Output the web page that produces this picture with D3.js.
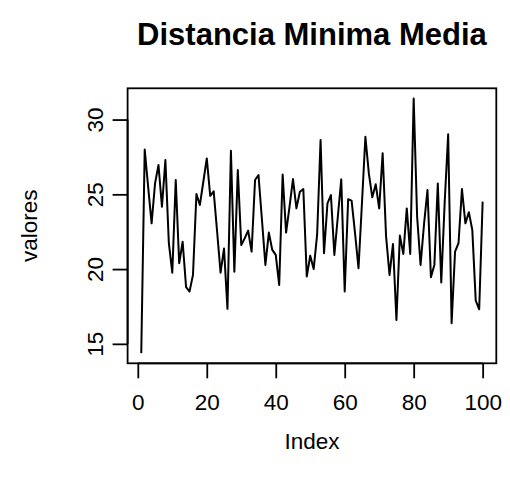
<!DOCTYPE html>
<html>
<head>
<meta charset="utf-8">
<script src="https://cdn.jsdelivr.net/npm/d3@7"></script>
<style>
  html, body { margin: 0; padding: 0; background: #fff; }
  svg { display: block; }
  text { font-family: "Liberation Sans", Arial, Helvetica, sans-serif; fill: #000; }
</style>
</head>
<body>
<svg id="chart" width="510" height="490"></svg>
<script>
const titleText = "Distancia Minima Media";
const xLabel = "Index";
const yLabel = "valores";
const xTicks = [0, 20, 40, 60, 80, 100];
const yTicks = [15, 20, 25, 30];
const valores = [
  14.38, 28.0, 25.5, 23.06, 25.73, 26.96, 24.17, 27.29, 21.73, 19.76,
  25.96, 20.39, 21.83, 18.79, 18.5, 19.61, 25.02, 24.29, 25.84, 27.4,
  24.9, 25.2, 22.5, 19.76, 21.37, 17.34, 27.91, 19.83, 26.62, 21.61,
  22.06, 22.57, 21.17, 25.96, 26.29, 23.3, 20.28, 22.44, 21.28, 20.95,
  18.94, 26.33, 22.44, 24.17, 26.02, 24.06, 25.17, 25.35, 19.5, 20.9,
  20.0, 22.3, 28.63, 21.06, 24.4, 24.95, 20.95, 23.5, 26.0, 18.5,
  24.67, 24.58, 22.39, 20.06, 24.4, 28.85, 26.4, 24.8, 25.67, 24.06,
  27.74, 22.17, 19.61, 21.68, 16.6, 22.24, 21.01, 24.06, 21.01, 31.41,
  23.5, 20.28, 23.0, 25.29, 19.46, 20.28, 25.73, 19.1, 24.5, 29.01,
  16.38, 21.17, 21.73, 25.35, 23.06, 23.8, 22.62, 17.89, 17.31, 24.51
];
const indices = valores.map((_, i) => i + 1);

const box = { left: 127.6, right: 496.3, top: 88.3, bottom: 363.3 };
const svg = d3.select("#chart");

// R-style 4% axis expansion
const xExt = d3.extent(indices);
const xPad = (xExt[1] - xExt[0]) * 0.04;
const yExt = d3.extent(valores);
const yPad = (yExt[1] - yExt[0]) * 0.04;

const x = d3.scaleLinear().domain([xExt[0] - xPad, xExt[1] + xPad]).range([box.left, box.right]);
const y = d3.scaleLinear().domain([yExt[0] - yPad, yExt[1] + yPad]).range([box.bottom, box.top]);

// Line
const line = d3.line().x((d, i) => x(indices[i])).y(d => y(d));
svg.append("path")
  .datum(valores)
  .attr("d", line)
  .attr("fill", "none")
  .attr("stroke", "#000")
  .attr("stroke-width", 2)
  .attr("stroke-linejoin", "round");

// Box
svg.append("rect")
  .attr("x", box.left).attr("y", box.top)
  .attr("width", box.right - box.left).attr("height", box.bottom - box.top)
  .attr("fill", "none").attr("stroke", "#000").attr("stroke-width", 1.8);

// X axis
const xAxis = d3.axisBottom(x).tickValues(xTicks).tickSize(15).tickPadding(16).tickFormat(d3.format("d"));
const gx = svg.append("g").attr("transform", `translate(0,${box.bottom})`).call(xAxis);
gx.select(".domain").attr("d", `M${x(xTicks[0])},0H${x(xTicks[xTicks.length - 1])}`).attr("stroke-width", 1.8);
gx.selectAll(".tick line").attr("stroke-width", 1.8);
gx.selectAll(".tick text").attr("font-size", 22.5).attr("font-family", "Liberation Sans, Arial, sans-serif").attr("dy", "0.71em");

// Y axis
const yAxis = d3.axisLeft(y).tickValues(yTicks).tickSize(15).tickFormat(d3.format("d"));
const gy = svg.append("g").attr("transform", `translate(${box.left},0)`).call(yAxis);
gy.select(".domain").attr("d", `M0,${y(yTicks[0])}V${y(yTicks[yTicks.length - 1])}`).attr("stroke-width", 1.8);
gy.selectAll(".tick line").attr("stroke-width", 1.8);
gy.selectAll(".tick text")
  .attr("font-size", 22.5).attr("font-family", "Liberation Sans, Arial, sans-serif")
  .attr("x", null).attr("dy", null)
  .attr("text-anchor", "middle")
  .attr("transform", "translate(-25,0) rotate(-90)");

// Titles
svg.append("text").attr("x", (box.left + box.right) / 2).attr("y", 45)
  .attr("text-anchor", "middle").attr("font-size", 31).attr("font-weight", "bold").text(titleText);
svg.append("text").attr("x", (box.left + box.right) / 2).attr("y", 449)
  .attr("text-anchor", "middle").attr("font-size", 22.5).text(xLabel);
svg.append("text").attr("transform", `translate(37,${(box.top + box.bottom) / 2}) rotate(-90)`)
  .attr("text-anchor", "middle").attr("font-size", 22.5).text(yLabel);
</script>
</body>
</html>
